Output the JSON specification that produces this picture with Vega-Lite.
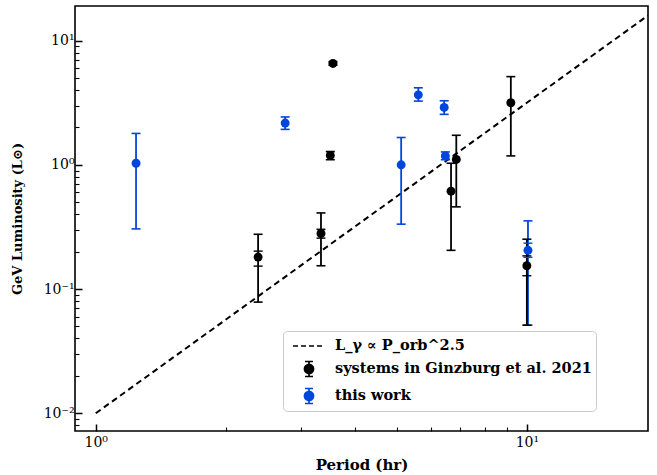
{
  "$schema": "https://vega.github.io/schema/vega-lite/v6.json",
  "width": 573,
  "height": 425,
  "autosize": {"type": "none"},
  "padding": {"left": 75, "top": 6, "right": 9, "bottom": 44},
  "background": "white",
  "datasets": {
    "trend": [
      {"series": "L_γ ∝ P_orb^2.5", "period": 1.0, "lum": 0.01},
      {"series": "L_γ ∝ P_orb^2.5", "period": 19.1, "lum": 15.94}
    ],
    "pts": [
      {"series": "this work", "period": 1.24, "lum": 1.03, "lo": 0.305, "hi": 1.79},
      {"series": "this work", "period": 2.75, "lum": 2.17, "lo": 1.93, "hi": 2.43},
      {"series": "this work", "period": 5.11, "lum": 1.0, "lo": 0.333, "hi": 1.66},
      {"series": "this work", "period": 5.6, "lum": 3.66, "lo": 3.26, "hi": 4.17},
      {"series": "this work", "period": 6.43, "lum": 2.9, "lo": 2.55, "hi": 3.28},
      {"series": "this work", "period": 6.47, "lum": 1.18, "lo": 1.1, "hi": 1.27},
      {"series": "this work", "period": 10.06, "lum": 0.205, "lo": 0.0512, "hi": 0.354},
      {"series": "systems in Ginzburg et al. 2021", "period": 2.38, "lum": 0.181, "lo": 0.0785, "hi": 0.276},
      {"series": "systems in Ginzburg et al. 2021", "period": 3.33, "lum": 0.28, "lo": 0.154, "hi": 0.41},
      {"series": "systems in Ginzburg et al. 2021", "period": 3.55, "lum": 6.55, "lo": 6.35, "hi": 6.75},
      {"series": "systems in Ginzburg et al. 2021", "period": 3.5, "lum": 1.19, "lo": 1.1, "hi": 1.28},
      {"series": "systems in Ginzburg et al. 2021", "period": 6.67, "lum": 0.614, "lo": 0.205, "hi": 1.03},
      {"series": "systems in Ginzburg et al. 2021", "period": 6.86, "lum": 1.105, "lo": 0.459, "hi": 1.73},
      {"series": "systems in Ginzburg et al. 2021", "period": 9.18, "lum": 3.16, "lo": 1.18, "hi": 5.13},
      {"series": "systems in Ginzburg et al. 2021", "period": 10.0, "lum": 0.154, "lo": 0.0512, "hi": 0.252}
    ],
    "inner": [
      {"series": "this work", "period": 10.06, "slo": 0.18, "shi": 0.234},
      {"series": "systems in Ginzburg et al. 2021", "period": 2.38, "slo": 0.153, "shi": 0.202},
      {"series": "systems in Ginzburg et al. 2021", "period": 3.33, "slo": 0.257, "shi": 0.303},
      {"series": "systems in Ginzburg et al. 2021", "period": 10.0, "slo": 0.128, "shi": 0.185}
    ]
  },
  "encoding": {
    "x": {
      "field": "period",
      "type": "quantitative",
      "title": "Period (hr)",
      "scale": {"type": "log", "domain": [0.895, 19.1], "nice": false, "zero": false},
      "axis": {
        "values": [1, 2, 3, 4, 5, 6, 7, 8, 9, 10],
        "labelExpr": "datum.value == 1 ? '10⁰' : datum.value == 10 ? '10¹' : ''",
        "tickSize": {"condition": {"test": "datum.value == 1 || datum.value == 10", "value": -7}, "value": -4},
        "tickWidth": {"condition": {"test": "datum.value == 1 || datum.value == 10", "value": 1.5}, "value": 1.1},
        "labelPadding": 11,
        "titlePadding": 5,
        "titleFontSize": 15,
        "labelFlush": false,
        "labelOverlap": false
      }
    },
    "color": {
      "field": "series",
      "type": "nominal",
      "scale": {
        "domain": ["L_γ ∝ P_orb^2.5", "systems in Ginzburg et al. 2021", "this work"],
        "range": ["black", "black", "#0046dc"]
      },
      "legend": {
        "title": null,
        "orient": "none",
        "legendX": 208,
        "legendY": 325,
        "padding": 4,
        "fillColor": "rgba(255,255,255,0.85)",
        "strokeColor": "#cccccc",
        "cornerRadius": 4,
        "symbolSize": 400,
        "symbolOffset": 11,
        "rowPadding": 5,
        "labelOffset": 15,
        "labelFont": "DejaVu Serif",
        "labelFontWeight": "bold",
        "labelFontSize": 14.5,
        "labelColor": "black",
        "labelLimit": 400,
        "encode": {
          "symbols": {
            "update": {
              "opacity": {"value": 1},
              "fillOpacity": {"value": 1},
              "strokeOpacity": {"value": 1},
              "strokeWidth": {"value": 1.7},
              "stroke": {"scale": "color", "field": "value"},
              "fill": {"scale": "color", "field": "value"},
              "strokeDash": {"signal": "datum.index === 0 ? [5, 3] : [1, 0]"}
            }
          }
        }
      }
    }
  },
  "layer": [
    {
      "data": {"name": "trend"},
      "mark": {"type": "line", "color": "black", "strokeWidth": 2, "strokeDash": [6, 4], "clip": true},
      "encoding": {
        "y": {
          "field": "lum",
          "type": "quantitative",
          "title": "GeV Luminosity (L⊙)",
          "scale": {"type": "log", "domain": [0.0072, 19.0], "nice": false, "zero": false},
          "axis": {
            "values": [0.008, 0.009, 0.01, 0.02, 0.03, 0.04, 0.05, 0.06, 0.07, 0.08, 0.09, 0.1, 0.2, 0.3, 0.4, 0.5, 0.6, 0.7, 0.8, 0.9, 1, 2, 3, 4, 5, 6, 7, 8, 9, 10],
            "labelExpr": "datum.value == 10 ? '10¹' : datum.value == 1 ? '10⁰' : datum.value == 0.1 ? '10⁻¹' : datum.value == 0.01 ? '10⁻²' : ''",
            "tickSize": {"condition": {"test": "datum.value == 10 || datum.value == 1 || datum.value == 0.1 || datum.value == 0.01", "value": -7}, "value": -4},
            "tickWidth": {"condition": {"test": "datum.value == 10 || datum.value == 1 || datum.value == 0.1 || datum.value == 0.01", "value": 1.5}, "value": 1.1},
            "labelPadding": 8,
            "labelFontSize": 14,
            "titlePadding": 19,
            "titleFontSize": 13,
            "labelOverlap": false
          }
        }
      }
    },
    {
      "data": {"name": "pts"},
      "mark": {"type": "rule", "strokeWidth": 1.8},
      "encoding": {
        "y": {"field": "lo", "type": "quantitative", "title": "GeV Luminosity (L⊙)"},
        "y2": {"field": "hi"}
      }
    },
    {
      "data": {"name": "pts"},
      "mark": {"type": "tick", "orient": "horizontal", "size": 9, "thickness": 1.6, "opacity": 1},
      "encoding": {
        "y": {"field": "lo", "type": "quantitative", "title": "GeV Luminosity (L⊙)"}
      }
    },
    {
      "data": {"name": "pts"},
      "mark": {"type": "tick", "orient": "horizontal", "size": 9, "thickness": 1.6, "opacity": 1},
      "encoding": {
        "y": {"field": "hi", "type": "quantitative", "title": "GeV Luminosity (L⊙)"}
      }
    },
    {
      "data": {"name": "inner"},
      "mark": {"type": "tick", "orient": "horizontal", "size": 9, "thickness": 1.4, "opacity": 1},
      "encoding": {
        "y": {"field": "slo", "type": "quantitative", "title": "GeV Luminosity (L⊙)"}
      }
    },
    {
      "data": {"name": "inner"},
      "mark": {"type": "tick", "orient": "horizontal", "size": 9, "thickness": 1.4, "opacity": 1},
      "encoding": {
        "y": {"field": "shi", "type": "quantitative", "title": "GeV Luminosity (L⊙)"}
      }
    },
    {
      "data": {"name": "pts"},
      "mark": {"type": "point", "shape": "circle", "filled": true, "size": 80, "opacity": 1},
      "encoding": {
        "y": {"field": "lum", "type": "quantitative", "title": "GeV Luminosity (L⊙)"}
      }
    },
    {
      "data": {"name": "pts"},
      "mark": {"type": "point", "filled": true, "size": 400, "opacity": 0},
      "encoding": {
        "y": {"field": "lum", "type": "quantitative", "title": "GeV Luminosity (L⊙)"},
        "shape": {
          "field": "series",
          "type": "nominal",
          "scale": {
            "domain": ["L_γ ∝ P_orb^2.5", "systems in Ginzburg et al. 2021", "this work"],
            "range": [
              "M-1.6,0L1.6,0",
              "M-0.45,0A0.45,0.45,0,1,1,0.45,0A0.45,0.45,0,1,1,-0.45,0Z M0,-0.75L0,0.75 M-0.4,-0.75L0.4,-0.75 M-0.4,0.75L0.4,0.75",
              "M-0.45,0A0.45,0.45,0,1,1,0.45,0A0.45,0.45,0,1,1,-0.45,0Z M0,-0.75L0,0.75 M-0.4,-0.75L0.4,-0.75 M-0.4,0.75L0.4,0.75"
            ]
          },
          "legend": {"title": null}
        }
      }
    }
  ],
  "config": {
    "view": {"stroke": "black", "strokeWidth": 1.6},
    "font": "DejaVu Serif",
    "axis": {
      "domain": false,
      "grid": false,
      "tickColor": "black",
      "labelColor": "black",
      "labelFont": "DejaVu Serif",
      "labelFontSize": 14,
      "titleFont": "DejaVu Serif",
      "titleFontSize": 13.5,
      "titleFontWeight": "bold",
      "titleColor": "black"
    }
  }
}
